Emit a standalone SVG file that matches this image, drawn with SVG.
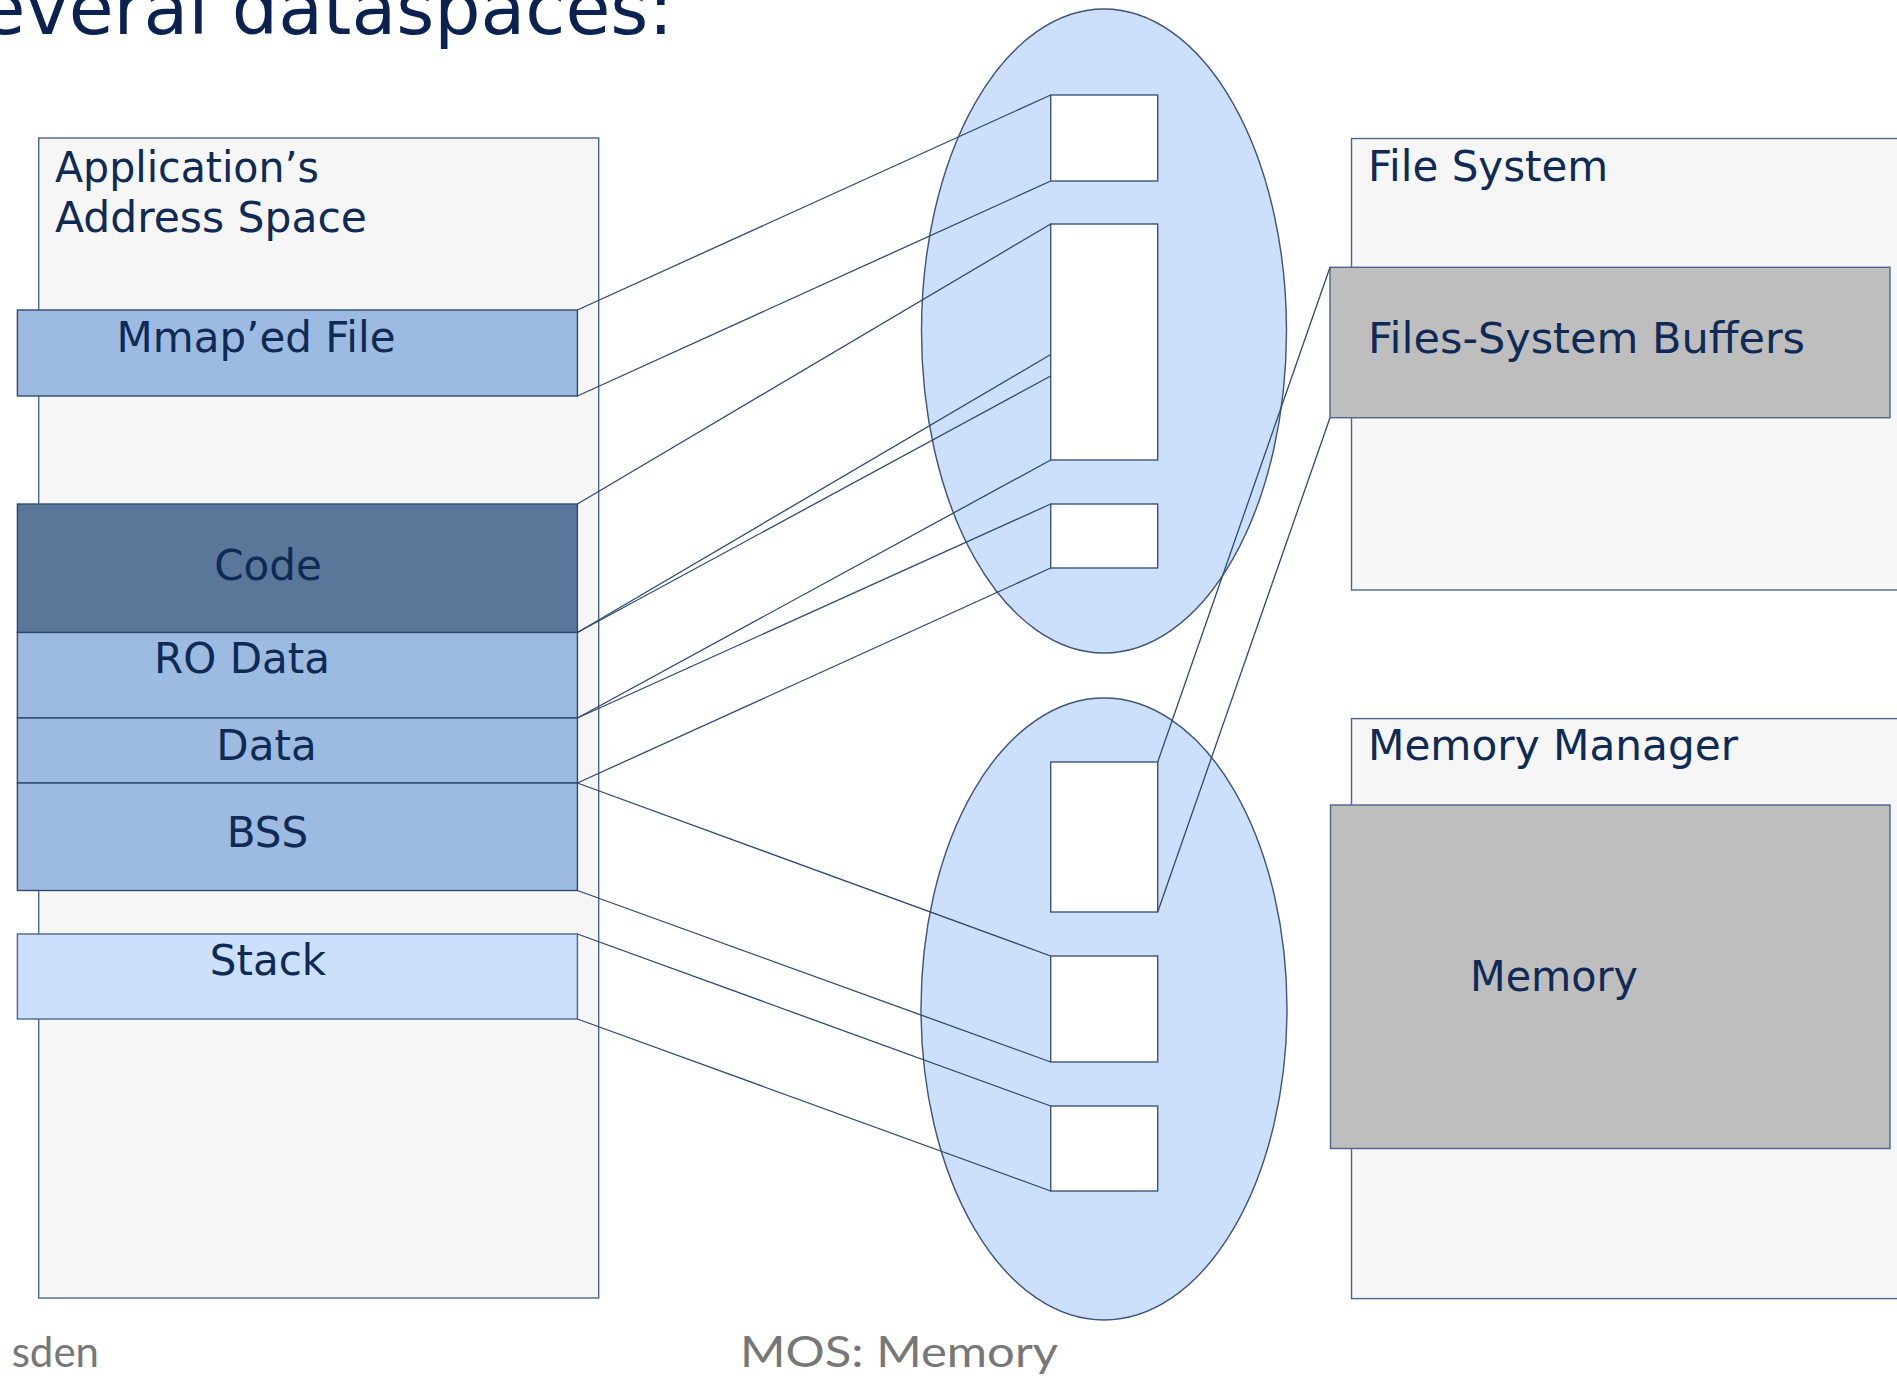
<svg xmlns="http://www.w3.org/2000/svg" width="1897" height="1376" viewBox="0 0 1897 1376">
<style>
text{font-family:"DejaVu Sans","Verdana",sans-serif;fill:#0e2a55;font-size:42px}
.title{font-size:73px;fill:#0b2150}
.foot{font-family:Lato,"Open Sans",sans-serif;fill:#777777;font-size:42px}
.cont{fill:#f6f6f6;stroke:#4d6589;stroke-width:1.4}
.bar{fill:#9dbbe1;stroke:#2f4a72;stroke-width:1.4}
.code{fill:#5a7698;stroke:#2f4a72;stroke-width:1.4}
.stack{fill:#cce0fc;stroke:#4d6589;stroke-width:1.4}
.gray{fill:#bebebe;stroke:#4d6589;stroke-width:1.4}
.ell{fill:#cce0fc;stroke:#3d5478;stroke-width:1.4}
.wb{fill:#ffffff;stroke:#3d5478;stroke-width:1.4}
.c{stroke:#2f4a72;stroke-width:1.3;fill:none}
.mid{text-anchor:middle}
</style>
<rect width="1897" height="1376" fill="#ffffff"/>
<text class="title" x="673" y="34" text-anchor="end">everal dataspaces:</text>

<g id="app-space">
<rect class="cont" x="38.7" y="138" width="560" height="1160"/>
<text x="55" y="181.5" textLength="264" lengthAdjust="spacingAndGlyphs">Application’s</text>
<text x="55" y="232" textLength="312" lengthAdjust="spacingAndGlyphs">Address Space</text>
</g>
<g id="mmap">
<rect class="bar" x="17.4" y="310" width="560" height="86"/>
<text x="116.5" y="352" textLength="279" lengthAdjust="spacingAndGlyphs">Mmap’ed File</text>
</g>
<g id="code">
<rect class="code" x="17.4" y="504" width="560" height="128.5"/>
<text class="mid" x="268" y="580">Code</text>
</g>
<g id="rodata">
<rect class="bar" x="17.4" y="632.5" width="560" height="85.5"/>
<text class="mid" x="242" y="673">RO Data</text>
</g>
<g id="data">
<rect class="bar" x="17.4" y="718" width="560" height="65"/>
<text class="mid" x="266.5" y="760">Data</text>
</g>
<g id="bss">
<rect class="bar" x="17.4" y="783" width="560" height="107.5"/>
<text class="mid" x="267.5" y="847">BSS</text>
</g>
<g id="stack">
<rect class="stack" x="17.4" y="934" width="560" height="85"/>
<text class="mid" x="268" y="975">Stack</text>
</g>

<g id="dataspace-top">
<ellipse class="ell" cx="1104" cy="331" rx="182.5" ry="322"/>
<rect class="wb" x="1050.7" y="95" width="107" height="86"/>
<rect class="wb" x="1050.7" y="224" width="107" height="236"/>
<rect class="wb" x="1050.7" y="504" width="107" height="64"/>
</g>
<g id="dataspace-bottom">
<ellipse class="ell" cx="1104" cy="1009" rx="183" ry="311"/>
<rect class="wb" x="1050.7" y="762" width="107" height="150"/>
<rect class="wb" x="1050.7" y="956" width="107" height="106"/>
<rect class="wb" x="1050.7" y="1106" width="107" height="85"/>
</g>

<g id="file-system">
<rect class="cont" x="1351.5" y="138.5" width="560" height="451.5"/>
<text x="1368" y="181">File System</text>
</g>
<g id="fs-buffers">
<rect class="gray" x="1330" y="267.3" width="560" height="150.4"/>
<text x="1368" y="353" textLength="437" lengthAdjust="spacingAndGlyphs">Files-System Buffers</text>
</g>
<g id="memory-manager">
<rect class="cont" x="1351.5" y="718.6" width="560" height="580"/>
<text x="1368" y="760" textLength="370" lengthAdjust="spacingAndGlyphs">Memory Manager</text>
</g>
<g id="memory">
<rect class="gray" x="1330.5" y="805" width="559.5" height="343.5"/>
<text x="1470" y="991" textLength="168" lengthAdjust="spacingAndGlyphs">Memory</text>
</g>

<g id="connectors">
<line class="c" x1="577.4" y1="310" x2="1050.7" y2="95"/>
<line class="c" x1="577.4" y1="396" x2="1050.7" y2="181"/>
<line class="c" x1="577.4" y1="504" x2="1050.7" y2="224"/>
<line class="c" x1="577.4" y1="632.5" x2="1050.7" y2="354.5"/>
<line class="c" x1="577.4" y1="632.5" x2="1050.7" y2="376"/>
<line class="c" x1="577.4" y1="718" x2="1050.7" y2="460"/>
<line class="c" x1="577.4" y1="718" x2="1050.7" y2="504"/>
<line class="c" x1="577.4" y1="783" x2="1050.7" y2="568"/>
<line class="c" x1="577.4" y1="783" x2="1050.7" y2="956"/>
<line class="c" x1="577.4" y1="890.5" x2="1050.7" y2="1062"/>
<line class="c" x1="577.4" y1="934" x2="1050.7" y2="1106"/>
<line class="c" x1="577.4" y1="1019" x2="1050.7" y2="1191"/>
<line class="c" x1="1157.7" y1="762" x2="1330" y2="267.3"/>
<line class="c" x1="1157.7" y1="912" x2="1330" y2="417.7"/>
</g>

<text class="foot" x="99" y="1367" text-anchor="end">sden</text>
<text class="foot" x="740" y="1367" textLength="318" lengthAdjust="spacingAndGlyphs">MOS: Memory</text>
</svg>
